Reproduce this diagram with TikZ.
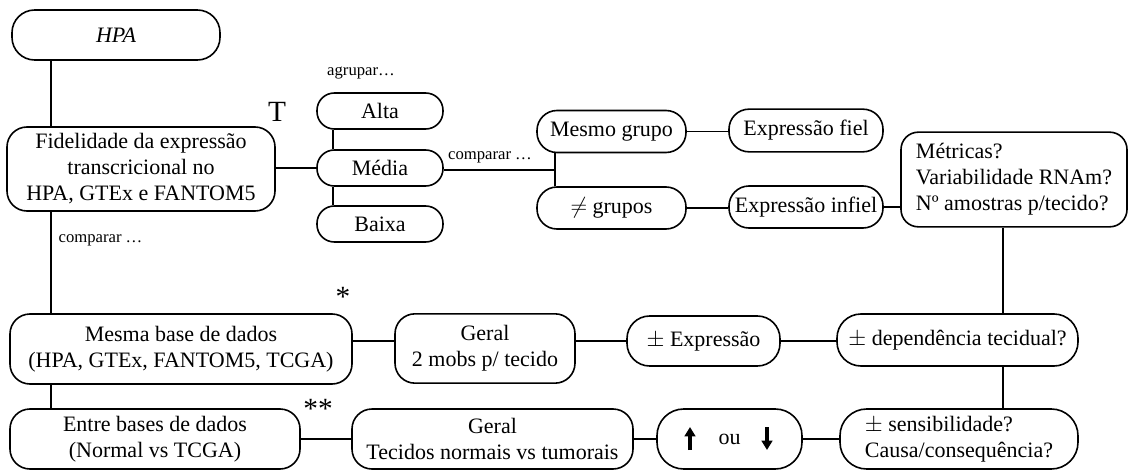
\documentclass[tikz,border=0pt]{standalone}
\usepackage{fontspec}
\setmainfont{Liberation Serif}
\usetikzlibrary{arrows.meta,calc}
\begin{document}
\begin{tikzpicture}[x=0.75pt,y=-0.75pt,
  box/.style={draw,line width=1.2pt,rounded corners=15pt,inner sep=0pt,align=center,
    font=\fontsize{16.5}{19.5}\selectfont},
  pill/.style={box,rounded corners=13pt},
  conn/.style={line width=1.3pt},
  small/.style={font=\fontsize{12.5}{15}\selectfont,inner sep=0pt},
  star/.style={font=\fontsize{22}{24}\selectfont,inner sep=0pt},
  thickarrow/.style={line width=2.4pt,-{Triangle[length=7pt,width=8pt]}}]
\useasboundingbox (0,0) rectangle (1129,471);
% guide coordinates
\coordinate (lx) at (51,0);
\coordinate (ax) at (333,0);
\coordinate (j1) at (555,170);
\coordinate (rx) at (1003,0);
\coordinate (ly) at (0,341);
% nodes
\node[box,minimum width=156pt,minimum height=37.5pt,rounded corners=17pt] (hpa) at (116,35) {\itshape HPA};
\node[box,minimum width=201pt,minimum height=63pt] (fid) at (141,169)
  {Fidelidade da expressão\\transcricional no\\HPA, GTEx e FANTOM5};
\node[pill,minimum width=94.5pt,minimum height=27pt] (alta) at (380,111) {Alta};
\node[pill,minimum width=94.5pt,minimum height=27pt] (media) at (380,168) {Média};
\node[pill,minimum width=94.5pt,minimum height=27pt] (baixa) at (380,224) {Baixa};
\node[pill,minimum width=111.75pt,minimum height=31.5pt,rounded corners=15pt] (mesmo) at (611.5,131.5) {Mesmo grupo};
\node[pill,minimum width=111.75pt,minimum height=31.5pt,rounded corners=15pt] (difg) at (611.5,208) {$\neq$ grupos};
\node[pill,minimum width=115.5pt,minimum height=32pt,rounded corners=15pt] (fiel) at (806,130.5) {Expressão fiel};
\node[pill,minimum width=115.5pt,minimum height=31.5pt,rounded corners=15pt] (infiel) at (806,207) {Expressão infiel};
\node[box,align=left,minimum width=169.5pt,minimum height=71pt,rounded corners=13pt] (metr) at (1014,179.5)
  {Métricas?\\Variabilidade RNAm?\\Nº amostras p/tecido?};
\node[box,minimum width=256.5pt,minimum height=52.5pt] (mesma) at (181,349)
  {Mesma base de dados\\(HPA, GTEx, FANTOM5, TCGA)};
\node[box,minimum width=135pt,minimum height=52pt] (geral1) at (485,348.5)
  {Geral\\2 mobs p/ tecido};
\node[box,minimum width=114.75pt,minimum height=37.5pt,rounded corners=17pt] (pmexp) at (703.5,341) {$\pm$ Expressão};
\node[box,minimum width=180.75pt,minimum height=39pt,rounded corners=18pt] (dep) at (957.5,340) {$\pm$ dependência tecidual?};
\node[box,minimum width=217.5pt,minimum height=45pt] (entre) at (155,439)
  {Entre bases de dados\\(Normal vs TCGA)};
\node[box,minimum width=210.75pt,minimum height=45pt] (geral2) at (492.5,439)
  {Geral\\Tecidos normais vs tumorais};
\node[box,minimum width=108.75pt,minimum height=45pt,rounded corners=20pt] (ud) at (729.5,439) {ou};
\node[box,align=left,minimum width=178.5pt,minimum height=45pt,rounded corners=20pt] (sens) at (959,439)
  {$\pm$ sensibilidade?\\Causa/consequência?};
% labels
\node[font=\fontsize{22}{24}\selectfont,inner sep=0pt] (tlab) at (277,112) {T};
\node[small] (agr) at (361,73) {agrupar…};
\node[small] (cmp1) at (490,157) {comparar …};
\node[small] (cmp2) at (100.5,240) {comparar …};
\node[star] (st1) at (343,297) {*};
\node[star] (st2) at (318,409) {**};
% arrows inside ud
\draw[thickarrow] ($(ud.center)+(-39.5,11)$) -- ($(ud.center)+(-39.5,-12)$);
\draw[thickarrow] ($(ud.center)+(37.5,-12)$) -- ($(ud.center)+(37.5,11)$);
% connectors
\draw[conn] (hpa.south -| lx) -- (fid.north -| lx);
\draw[conn] (fid.south -| lx) -- (mesma.north -| lx);
\draw[conn] (mesma.south -| lx) -- (entre.north -| lx);
\draw[conn] (fid.east |- media.west) -- (media.west);
\draw[conn] (alta.south -| ax) -- (media.north -| ax);
\draw[conn] (media.south -| ax) -- (baixa.north -| ax);
\draw[conn] (media.east |- j1) -- (j1);
\draw[conn] (mesmo.south -| j1) -- (difg.north -| j1);
\draw[conn] (mesmo.east) -- (mesmo.east -| fiel.west);
\draw[conn] (difg.east) -- (difg.east -| infiel.west);
\draw[conn] (infiel.east) -- (infiel.east -| metr.west);
\draw[conn] (metr.south -| rx) -- (dep.north -| rx);
\draw[conn] (dep.south -| rx) -- (sens.north -| rx);
\draw[conn] (mesma.east |- ly) -- (geral1.west |- ly);
\draw[conn] (geral1.east |- ly) -- (pmexp.west |- ly);
\draw[conn] (pmexp.east |- ly) -- (dep.west |- ly);
\draw[conn] (entre.east) -- (geral2.west);
\draw[conn] (geral2.east) -- (ud.west);
\draw[conn] (ud.east) -- (sens.west);
\end{tikzpicture}
\end{document}
